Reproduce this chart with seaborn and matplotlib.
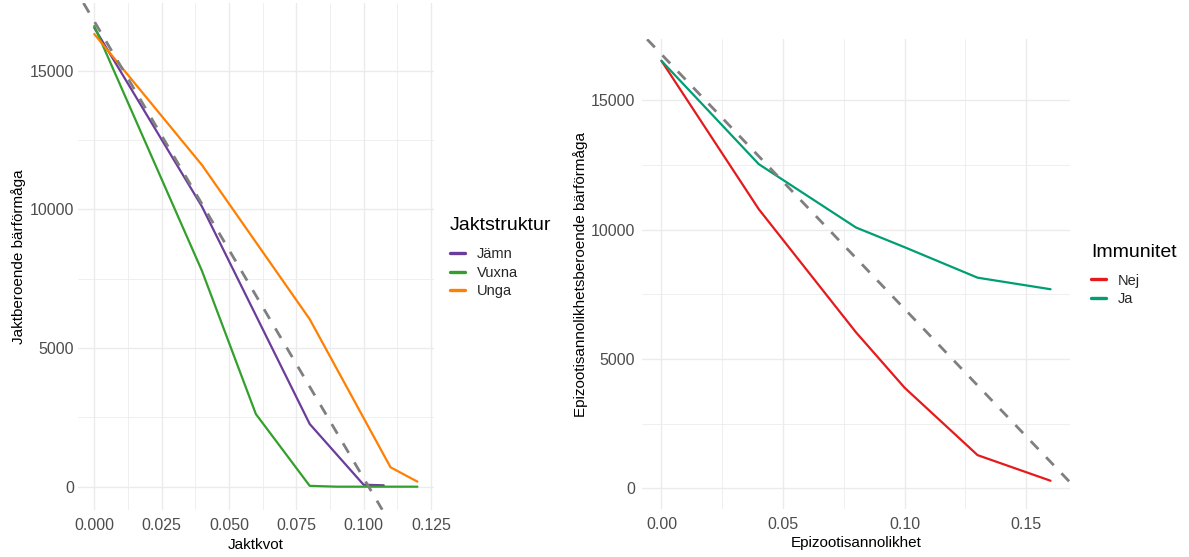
import matplotlib
matplotlib.use("Agg")
import matplotlib.pyplot as plt
import seaborn as sns
import pandas as pd
import numpy as np
from matplotlib.ticker import MultipleLocator, FormatStrFormatter

# ---------------- data ----------------
# Left panel: Jaktkvot vs Jaktberoende bärförmåga
jamn_x = [0.0, 0.04, 0.08, 0.10, 0.1075]
jamn_y = [16550, 10100, 2260, 70, 50]
vuxna_x = [0.0, 0.04, 0.06, 0.08, 0.09, 0.10, 0.11, 0.12]
vuxna_y = [16611, 7780, 2621, 30, 0, 0, 0, 0]
unga_x = [0.0, 0.04, 0.08, 0.11, 0.12]
unga_y = [16323, 11597, 6039, 700, 181]
jakt_labels = ["Jämn", "Vuxna", "Unga"]
jakt_colors = ["#6A3D9A", "#33A02C", "#FF7F00"]
left_abline = [16780, -164700]   # intercept, slope

# Right panel: Epizootisannolikhet vs bärförmåga
epi_x = [0.0, 0.04, 0.08, 0.10, 0.13, 0.16]
nej_y = [16518, 10788, 6027, 3885, 1281, 292]
ja_y = [16518, 12527, 10077, 9315, 8138, 7692]
imm_labels = ["Nej", "Ja"]
imm_colors = ["#E41A1C", "#009E73"]
right_abline = [16770, -98430]   # intercept, slope

left_df = pd.concat([
    pd.DataFrame({"x": jamn_x, "y": jamn_y, "Jaktstruktur": jakt_labels[0]}),
    pd.DataFrame({"x": vuxna_x, "y": vuxna_y, "Jaktstruktur": jakt_labels[1]}),
    pd.DataFrame({"x": unga_x, "y": unga_y, "Jaktstruktur": jakt_labels[2]}),
], ignore_index=True)
right_df = pd.concat([
    pd.DataFrame({"x": epi_x, "y": nej_y, "Immunitet": imm_labels[0]}),
    pd.DataFrame({"x": epi_x, "y": ja_y, "Immunitet": imm_labels[1]}),
], ignore_index=True)

# ---------------- style ----------------
sns.set_theme(style="white")
plt.rcParams["font.family"] = ["Liberation Sans", "DejaVu Sans"]

W, H = 1189, 557
fig = plt.figure(figsize=(W / 100, H / 100), dpi=100)
fig.patch.set_facecolor("white")

def px_axes(l, t, r, b):
    return fig.add_axes([l / W, 1 - b / H, (r - l) / W, (b - t) / H])

axL = px_axes(78.1, 3.0, 433.6, 509.7)
axR = px_axes(642.0, 39.3, 1070.0, 509.0)

TICK_COLOR = "#4D4D4D"
GRID = "#EBEBEB"

def style_axes(ax):
    for s in ax.spines.values():
        s.set_visible(False)
    ax.set_facecolor("white")
    ax.grid(True, which="major", color=GRID, linewidth=1.0)
    ax.grid(True, which="minor", color=GRID, linewidth=0.55)
    ax.set_axisbelow(True)
    ax.tick_params(which="both", length=0, labelsize=11.5, labelcolor=TICK_COLOR)
    ax.tick_params(axis="x", pad=6)
    ax.tick_params(axis="y", pad=3)
    ax.yaxis.set_major_locator(MultipleLocator(5000))
    ax.yaxis.set_minor_locator(MultipleLocator(2500))
    ax.yaxis.set_major_formatter(FormatStrFormatter("%d"))

def place_legend(handles, labels, title, title_x, title_y, items_top):
    for h in handles:
        h.set_linewidth(2.4)
    fig.text(title_x / W, 1 - title_y / H, title, fontsize=14, color="black",
             ha="left", va="center")
    fig.legend(handles, labels, loc="upper left",
               bbox_to_anchor=(title_x / W, 1 - items_top / H), frameon=False,
               fontsize=10.5, borderpad=0, borderaxespad=0,
               handlelength=1.05, handletextpad=0.8, labelspacing=0.3)

# ---------------- left panel ----------------
sns.lineplot(data=left_df, x="x", y="y", hue="Jaktstruktur", hue_order=jakt_labels,
             palette=jakt_colors, linewidth=1.6, sort=False, estimator=None, ax=axL)
axL.axline((0, left_abline[0]), slope=left_abline[1], color="#7F7F7F",
           linewidth=2.0, dashes=(4, 4), zorder=3)
axL.set_xlim(-0.006, 0.126)
axL.set_ylim(-830, 17441)
style_axes(axL)
axL.xaxis.set_major_locator(MultipleLocator(0.025))
axL.xaxis.set_minor_locator(MultipleLocator(0.0125))
axL.xaxis.set_major_formatter(FormatStrFormatter("%.3f"))
axL.set_xlabel("Jaktkvot", fontsize=11, color="black")
axL.set_ylabel("Jaktberoende bärförmåga", fontsize=11, color="black")
axL.xaxis.set_label_coords(0.5, -0.0697)
axL.xaxis.label.set_va("center")
axL.yaxis.set_label_coords(-0.168, 0.5)
axL.yaxis.label.set_va("center")
hL, lL = axL.get_legend_handles_labels()
axL.get_legend().remove()
place_legend(hL, lL, "Jaktstruktur", 450, 225, 247.5)

# ---------------- right panel ----------------
sns.lineplot(data=right_df, x="x", y="y", hue="Immunitet", hue_order=imm_labels,
             palette=imm_colors, linewidth=1.6, sort=False, estimator=None, ax=axR)
axR.axline((0, right_abline[0]), slope=right_abline[1], color="#7F7F7F",
           linewidth=2.0, dashes=(4, 4), zorder=3)
axR.set_xlim(-0.008, 0.168)
axR.set_ylim(-800, 17350)
style_axes(axR)
axR.tick_params(axis="y", pad=5)
axR.xaxis.set_major_locator(MultipleLocator(0.05))
axR.xaxis.set_minor_locator(MultipleLocator(0.025))
axR.xaxis.set_major_formatter(FormatStrFormatter("%.2f"))
axR.set_xlabel("Epizootisannolikhet", fontsize=11, color="black")
axR.set_ylabel("Epizootisannolikhetsberoende bärförmåga", fontsize=11, color="black")
axR.xaxis.set_label_coords(0.5, -0.073)
axR.xaxis.label.set_va("center")
axR.yaxis.set_label_coords(-0.143, 0.5)
axR.yaxis.label.set_va("center")
hR, lR = axR.get_legend_handles_labels()
axR.get_legend().remove()
place_legend(hR, lR, "Immunitet", 1091, 252.3, 273.5)

fig.savefig("out.png", dpi=100, facecolor="white")
